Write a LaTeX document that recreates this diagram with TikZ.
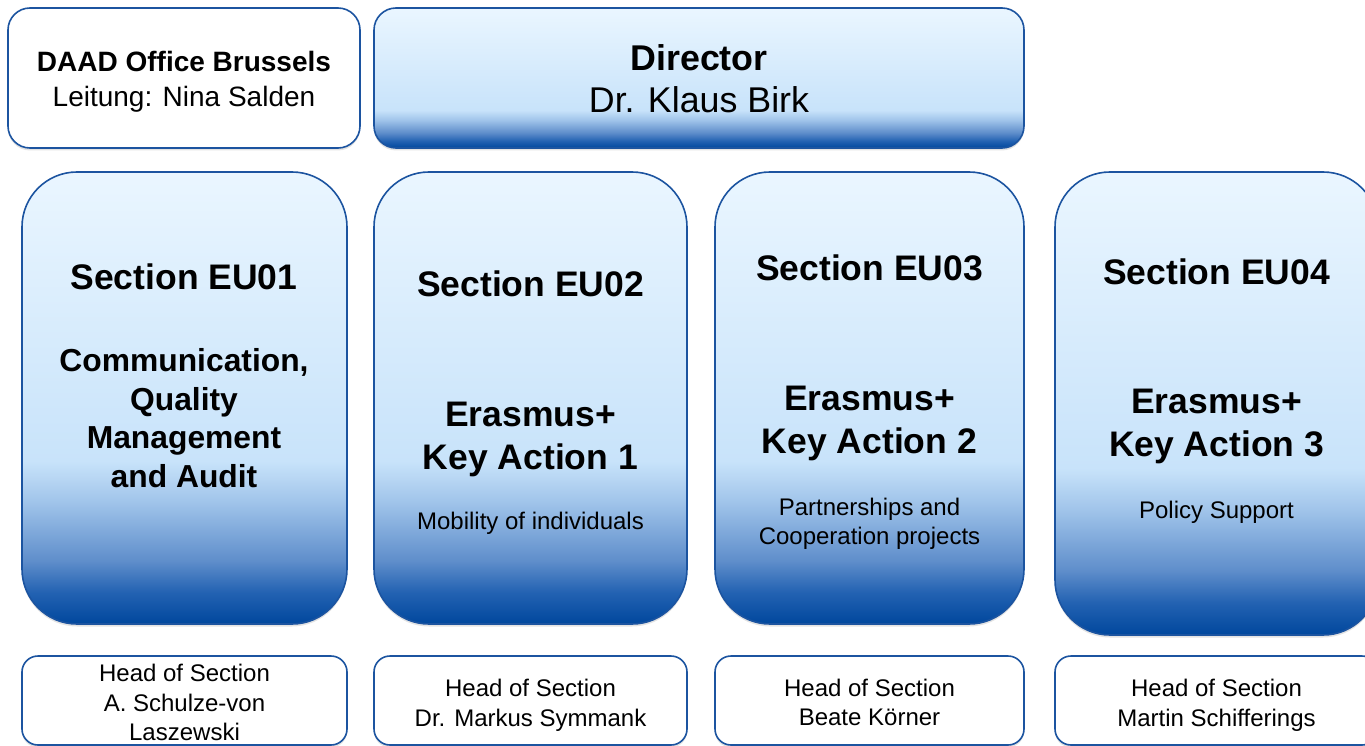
\documentclass[tikz,border=0pt]{standalone}
\usepackage{fontspec}
\setmainfont{Liberation Sans}
\usetikzlibrary{shadows}

\definecolor{bordblue}{RGB}{28,84,160}
\definecolor{sdark}{RGB}{0,71,157}
\definecolor{sdeep}{RGB}{35,98,178}
\definecolor{smid}{RGB}{95,142,203}
\definecolor{spale}{RGB}{160,196,234}
\definecolor{ssky}{RGB}{200,227,250}
\definecolor{slight}{RGB}{234,246,255}

\pgfdeclareverticalshading{secshade}{100bp}{color(0bp)=(sdark); color(25bp)=(sdark); color(28.5bp)=(sdeep); color(32bp)=(smid); color(38.5bp)=(spale); color(43bp)=(ssky); color(75bp)=(slight); color(100bp)=(slight)}
\pgfdeclareverticalshading{dirshade}{100bp}{color(0bp)=(sdark); color(25bp)=(sdark); color(27.5bp)=(sdeep); color(30.5bp)=(smid); color(35bp)=(spale); color(38.5bp)=(ssky); color(75bp)=(slight); color(100bp)=(slight)}

\begin{document}
\begin{tikzpicture}[x=1pt,y=-1pt,
  box/.style={rectangle, draw=bordblue, line width=1.6pt, inner sep=0pt,
    drop shadow={opacity=0.22, shadow xshift=0pt, shadow yshift=-2.5pt}},
  topbox/.style={box, rounded corners=22pt, minimum height=140pt},
  secbox/.style={box, shading=secshade, rounded corners=55pt},
  headbox/.style={box, fill=white, rounded corners=16pt, minimum height=89pt},
  headtext/.style={font=\fontsize{24}{29.5}\selectfont, align=center},
  sectitle/.style={font=\fontsize{35.5}{42.6}\selectfont\bfseries, align=center},
  keytext/.style={font=\fontsize{35.5}{43}\selectfont\bfseries, align=center},
  subtext/.style={font=\fontsize{24}{29}\selectfont, align=center}]
\useasboundingbox (0,0) rectangle (1365,746);
\clip (0,0) rectangle (1365,746);

%% top row
\node[topbox, fill=white, minimum width=352pt] (daad) at (184,78) {};
\node[topbox, shading=dirshade, minimum width=650pt] (dir) at (699,78) {};
\node[font=\fontsize{28}{35}\selectfont, align=center] (daadtext) at (184,82)
  {\textbf{DAAD Office Brussels}\\Leitung: Nina Salden};
\node[font=\fontsize{35.8}{42}\selectfont, align=center] (dirtext) at (699,79)
  {\textbf{Director}\\Dr. Klaus Birk};

%% sections
\node[secbox, minimum width=325pt, minimum height=452pt] (eu01) at (184.5,398) {};
\node[secbox, minimum width=313pt, minimum height=452pt] (eu02) at (530.5,398) {};
\node[secbox, minimum width=309pt, minimum height=452pt] (eu03) at (869.5,398) {};
\node[secbox, minimum width=323pt, minimum height=463pt] (eu04) at (1216.5,403.5) {};

%% section texts
\node[sectitle] (eu01title) at (184,277) {Section EU01};
\node[font=\fontsize{31.8}{38.5}\selectfont\bfseries, align=center] (eu01key) at (184,418)
  {Communication,\\Quality\\Management\\and Audit};

\node[sectitle] (eu02title) at (530.5,284) {Section EU02};
\node[keytext] (eu02key) at (530.5,439.5) {Erasmus+\\Key Action 1};
\node[subtext] (eu02sub) at (530.5,523) {Mobility of individuals};

\node[sectitle] (eu03title) at (869.5,268) {Section EU03};
\node[keytext] (eu03key) at (869.5,423.5) {Erasmus+\\Key Action 2};
\node[subtext] (eu03sub) at (869.5,523.5) {Partnerships and\\Cooperation projects};

\node[sectitle] (eu04title) at (1216.5,272) {Section EU04};
\node[keytext] (eu04key) at (1216.5,426) {Erasmus+\\Key Action 3};
\node[subtext] (eu04sub) at (1216.5,512) {Policy Support};

%% heads of section
\node[headbox, minimum width=325pt] (head01) at (184.5,700.5) {};
\node[headbox, minimum width=313pt] (head02) at (530.5,700.5) {};
\node[headbox, minimum width=309pt] (head03) at (869.5,700.5) {};
\node[headbox, minimum width=323pt] (head04) at (1216.5,700.5) {};
\node[headtext] (head01text) at (184.5,702.5) {Head of Section\\A. Schulze-von\\Laszewski};
\node[headtext] (head02text) at (530.5,705.5) {Head of Section\\Dr. Markus Symmank};
\node[headtext] (head03text) at (869.5,702.5) {Head of Section\\Beate K\"orner};
\node[headtext] (head04text) at (1216.5,705.5) {Head of Section\\Martin Schifferings};
\end{tikzpicture}
\end{document}
